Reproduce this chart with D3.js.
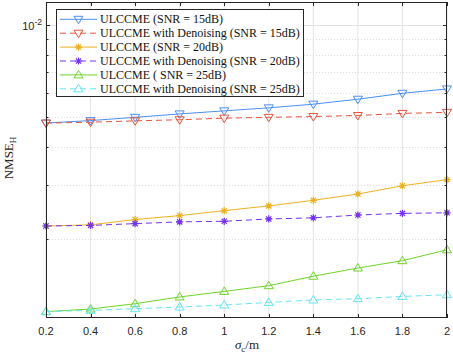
<!DOCTYPE html>
<html><head><meta charset="utf-8">
<script src="https://cdn.jsdelivr.net/npm/d3@7"></script>
<style>body{margin:0;background:#fff}svg{display:block}</style>
</head><body><svg id="c" width="453" height="355"></svg>
<script>
const xValues = [0.2,0.4,0.6,0.8,1.0,1.2,1.4,1.6,1.8,2.0];
const ulc15  = [4.78e-3,4.87e-3,4.99e-3,5.12e-3,5.24e-3,5.36e-3,5.51e-3,5.72e-3,5.98e-3,6.18e-3];
const ulcd15 = [4.78e-3,4.81e-3,4.86e-3,4.90e-3,4.96e-3,4.99e-3,5.02e-3,5.06e-3,5.14e-3,5.18e-3];
const ulc20  = [2.20e-3,2.22e-3,2.31e-3,2.38e-3,2.47e-3,2.56e-3,2.67e-3,2.80e-3,2.98e-3,3.12e-3];
const ulcd20 = [2.20e-3,2.21e-3,2.24e-3,2.27e-3,2.28e-3,2.32e-3,2.34e-3,2.39e-3,2.42e-3,2.43e-3];
const ulc25  = [1.154e-3,1.177e-3,1.225e-3,1.289e-3,1.344e-3,1.403e-3,1.507e-3,1.603e-3,1.694e-3,1.839e-3];
const ulcd25 = [1.154e-3,1.165e-3,1.180e-3,1.195e-3,1.213e-3,1.237e-3,1.260e-3,1.272e-3,1.294e-3,1.311e-3];
const seriesNames = ["ULCCME (SNR = 15dB)","ULCCME with Denoising (SNR = 15dB)","ULCCME (SNR = 20dB)","ULCCME with Denoising (SNR = 20dB)","ULCCME ( SNR = 25dB)","ULCCME with Denoising (SNR = 25dB)"];
const xTicks = [0.2,0.4,0.6,0.8,1,1.2,1.4,1.6,1.8,2];
const xTickLabels = ["0.2","0.4","0.6","0.8","1","1.2","1.4","1.6","1.8","2"];
const yMinorTicks = [2e-3,3e-3,4e-3,5e-3,6e-3,7e-3,8e-3,9e-3];
const yMajorTicks = [1e-2];

const styles = [
  {c:"#4b8ff5", dash:null, m:"tdown"},
  {c:"#e8533a", dash:"6,4", m:"tdown"},
  {c:"#EDB120", dash:null, m:"star"},
  {c:"#7433f0", dash:"6,4", m:"star"},
  {c:"#6fd42a", dash:null, m:"tup"},
  {c:"#62e6f2", dash:"6,4", m:"tup"}
];
const data = [ulc15, ulcd15, ulc20, ulcd20, ulc25, ulcd25];

const L=46, R=447, T=2, B=318;
const svg = d3.select("#c");
const x = d3.scaleLinear().domain([0.2,2]).range([L,R]);
const y = d3.scaleLog().domain([1.1e-3,1.19e-2]).range([B,T]);
const axc = "#262626";

// grid
const g = svg.append("g");
g.selectAll(".xg").data(xTicks).join("line")
  .attr("x1",d=>x(d)).attr("x2",d=>x(d)).attr("y1",T).attr("y2",B)
  .attr("stroke","#e3e3e3").attr("stroke-width",1);
g.selectAll(".yg").data(yMajorTicks).join("line")
  .attr("x1",L).attr("x2",R).attr("y1",d=>Math.round(y(d))+0.5).attr("y2",d=>Math.round(y(d))+0.5)
  .attr("stroke","#e3e3e3").attr("stroke-width",1);
g.selectAll(".ymg").data(yMinorTicks).join("line")
  .attr("x1",L).attr("x2",R).attr("y1",d=>Math.round(y(d))+0.5).attr("y2",d=>Math.round(y(d))+0.5)
  .attr("stroke","#dcdcdc").attr("stroke-width",1).attr("stroke-dasharray","1,2");

// lines
const line = d3.line().x((d,i)=>x(xValues[i])).y(d=>y(d));
data.forEach((s,k)=>{
  svg.append("path").attr("d",line(s)).attr("fill","none")
    .attr("stroke",styles[k].c).attr("stroke-width",1)
    .attr("stroke-dasharray",styles[k].dash);
});

function marker(sel, type, c, cx, cy){
  if(type==="tdown"){
    sel.append("path").attr("d",`M${cx-4.5},${cy-3} L${cx+4.5},${cy-3} L${cx},${cy+4.5} Z`)
      .attr("fill","none").attr("stroke",c).attr("stroke-width",1);
  } else if(type==="tup"){
    sel.append("path").attr("d",`M${cx-4.5},${cy+3} L${cx+4.5},${cy+3} L${cx},${cy-4.5} Z`)
      .attr("fill","none").attr("stroke",c).attr("stroke-width",1);
  } else {
    const r=3.6, r2=2.6;
    let d=`M${cx-r},${cy} L${cx+r},${cy} M${cx},${cy-r} L${cx},${cy+r} M${cx-r2},${cy-r2} L${cx+r2},${cy+r2} M${cx-r2},${cy+r2} L${cx+r2},${cy-r2}`;
    sel.append("path").attr("d",d).attr("fill","none").attr("stroke",c).attr("stroke-width",1.2);
    sel.append("circle").attr("cx",cx).attr("cy",cy).attr("r",1.6).attr("fill",c);
  }
}
data.forEach((s,k)=>{
  const gg = svg.append("g");
  s.forEach((v,i)=>marker(gg, styles[k].m, styles[k].c, x(xValues[i]), y(v)));
});

// axes box
svg.append("rect").attr("x",L+0.5).attr("y",T+0.5).attr("width",R-L-1).attr("height",B-T-1)
  .attr("fill","none").attr("stroke",axc).attr("stroke-width",1);

// ticks
const xt = svg.append("g");
xTicks.forEach(t=>{
  const px = Math.round(x(t))+0.5;
  xt.append("line").attr("x1",px).attr("x2",px).attr("y1",B).attr("y2",B-4).attr("stroke",axc);
  xt.append("line").attr("x1",px).attr("x2",px).attr("y1",T).attr("y2",T+4).attr("stroke",axc);
});
svg.append("g").selectAll("text").data(xTicks).join("text")
  .attr("x",d=>x(d)).attr("y",335).attr("text-anchor","middle")
  .attr("font-family","Liberation Sans, Arial, sans-serif").attr("font-size",11).attr("fill",axc)
  .text((d,i)=>xTickLabels[i]);
yMajorTicks.forEach(t=>{
  const py = Math.round(y(t))+0.5;
  xt.append("line").attr("x1",L).attr("x2",L+4).attr("y1",py).attr("y2",py).attr("stroke",axc);
  xt.append("line").attr("x1",R-4).attr("x2",R).attr("y1",py).attr("y2",py).attr("stroke",axc);
});
yMinorTicks.forEach(t=>{
  const py = Math.round(y(t))+0.5;
  xt.append("line").attr("x1",L).attr("x2",L+2.5).attr("y1",py).attr("y2",py).attr("stroke",axc);
  xt.append("line").attr("x1",R-2.5).attr("x2",R).attr("y1",py).attr("y2",py).attr("stroke",axc);
});
const yl = svg.append("text").attr("x",42).attr("y",y(1e-2)+4.5).attr("text-anchor","end")
  .attr("font-family","Liberation Sans, Arial, sans-serif").attr("font-size",11).attr("fill",axc);
yl.append("tspan").text("10");
yl.append("tspan").attr("dy",-5).attr("font-size",8.5).text("-2");

// axis labels
const xlab = svg.append("text").attr("x",247).attr("y",349).attr("text-anchor","middle")
  .attr("font-family","Liberation Serif, Times New Roman, serif").attr("font-size",13).attr("fill",axc);
xlab.append("tspan").attr("font-style","italic").text("σ");
xlab.append("tspan").attr("font-size",9).attr("dy",2.5).text("c");
xlab.append("tspan").attr("dy",-2.5).text("/m");

const ylab = svg.append("text").attr("transform","translate(13,158) rotate(-90)").attr("text-anchor","middle")
  .attr("font-family","Liberation Serif, Times New Roman, serif").attr("font-size",13).attr("fill",axc);
ylab.append("tspan").text("NMSE");
ylab.append("tspan").attr("font-size",9).attr("dy",3).text("H");

// legend
const lg = svg.append("g");
lg.append("rect").attr("x",56.5).attr("y",9.5).attr("width",247).attr("height",87)
  .attr("fill","#fff").attr("stroke",axc).attr("stroke-width",1);
const rowY = [19.3,33.2,47.1,61,74.9,88.8];
seriesNames.forEach((n,k)=>{
  const yy = rowY[k];
  lg.append("line").attr("x1",60).attr("x2",97).attr("y1",yy).attr("y2",yy)
    .attr("stroke",styles[k].c).attr("stroke-width",1).attr("stroke-dasharray",styles[k].dash);
  marker(lg, styles[k].m, styles[k].c, 78.5, yy);
  lg.append("text").attr("x",100).attr("y",yy+4).attr("font-family","Liberation Serif, Times New Roman, serif")
    .attr("font-size",12).attr("fill","#111").text(n);
});
</script></body></html>
